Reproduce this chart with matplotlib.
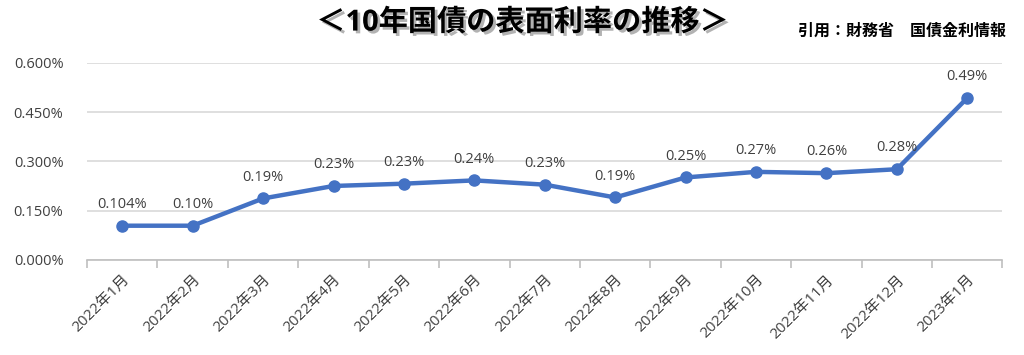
import matplotlib.pyplot as plt
import matplotlib.patheffects as pe
from matplotlib.ticker import FuncFormatter

plt.rcParams['font.family'] = ['Open Sans', 'Noto Sans CJK JP', 'DejaVu Sans']

months = ['2022年1月', '2022年2月', '2022年3月', '2022年4月', '2022年5月', '2022年6月',
          '2022年7月', '2022年8月', '2022年9月', '2022年10月', '2022年11月', '2022年12月',
          '2023年1月']
rates = [0.104, 0.104, 0.187, 0.225, 0.232, 0.242, 0.229, 0.190, 0.251, 0.268, 0.264, 0.276, 0.493]
rate_labels = ['0.104%', '0.10%', '0.19%', '0.23%', '0.23%', '0.24%', '0.23%', '0.19%',
               '0.25%', '0.27%', '0.26%', '0.28%', '0.49%']
yticks = [0.0, 0.15, 0.30, 0.45, 0.60]

fig = plt.figure(figsize=(10.24, 3.55), dpi=100)
ax = fig.add_axes([0.085, 0.268, 0.894, 0.555])

x = list(range(len(months)))
ax.plot(x, rates, color='#4472C4', linewidth=3.2, marker='o', markersize=8, zorder=3)
for xi, v, lab in zip(x, rates, rate_labels):
    ax.annotate(lab, (xi, v), xytext=(0, 10), textcoords='offset points',
                ha='center', va='bottom', fontsize=10.5, color='#404040')

ax.set_xlim(-0.5, len(months) - 0.5)
ax.set_ylim(0, 0.6)
ax.set_yticks(yticks)
ax.yaxis.set_major_formatter(FuncFormatter(lambda v, p: f'{v:.3f}%'))
ax.grid(axis='y', color='#d9d9d9', linewidth=1.2)
ax.set_axisbelow(True)
for s in ['top', 'right', 'left']:
    ax.spines[s].set_visible(False)
ax.spines['bottom'].set_color('#bfbfbf')
ax.spines['bottom'].set_linewidth(1.2)
ax.tick_params(axis='y', length=0, labelsize=10.5, labelcolor='#404040', pad=17)

ax.set_xticks(x)
ax.set_xticklabels(months, rotation=45, ha='right', rotation_mode='anchor',
                   fontsize=11, color='#404040')
ax.tick_params(axis='x', which='major', length=0, pad=9)
ax.set_xticks([i - 0.5 for i in range(len(months) + 1)], minor=True)
ax.tick_params(axis='x', which='minor', length=6, color='#bfbfbf', width=1.2)

fig.text(0.51, 0.935, '＜10年国債の表面利率の推移＞', ha='center', va='center',
         fontsize=21, fontweight='bold', color='black',
         path_effects=[pe.withSimplePatchShadow(offset=(2, -2), shadow_rgbFace='#808080', alpha=0.6)])
fig.text(0.982, 0.91, '引用：財務省　国債金利情報', ha='right', va='center',
         fontsize=11.5, fontweight='bold', color='black')

fig.savefig('out.png', dpi=100)
